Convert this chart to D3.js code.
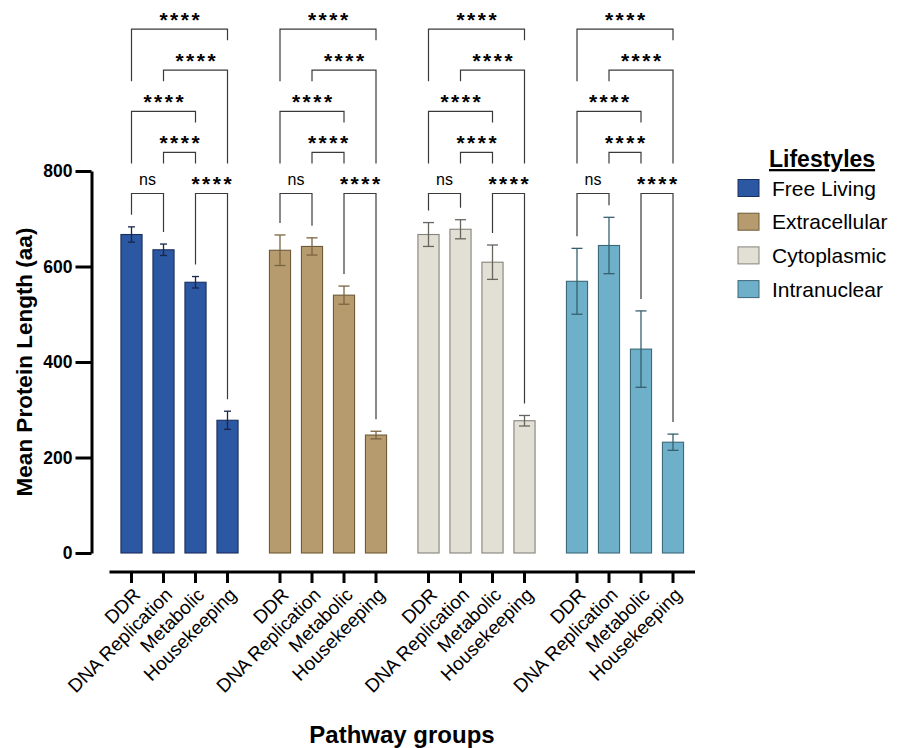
<!DOCTYPE html>
<html>
<head>
<meta charset="utf-8">
<script src="https://cdn.jsdelivr.net/npm/d3@7"></script>
<style>
    body { margin: 0; background: #fff; }
    svg { display: block; font-family: "Liberation Sans", Arial, Helvetica, sans-serif; }
</style>
</head>
<body>
<svg id="chart"></svg>
<script>
// values
let lifestyles = ["Free Living", "Extracellular", "Cytoplasmic", "Intranuclear"];
let pathways = ["DDR", "DNA Replication", "Metabolic", "Housekeeping"];

let freeLivingMean = [667, 635, 567, 278];
let freeLivingErr = [16, 12, 12, 19];
let extracellularMean = [634, 642, 540, 247];
let extracellularErr = [32, 18, 19, 8];
let cytoplasmicMean = [667, 678, 609, 277];
let cytoplasmicErr = [25, 20, 36, 11];
let intranuclearMean = [569, 644, 427, 232];
let intranuclearErr = [69, 59, 80, 17];

let yTicks = [0, 200, 400, 600, 800];

// pairwise tests inside each lifestyle (a, b = pathway index), stacked by level
let comparisons = [
    {a: 0, b: 1, label: "ns", level: 0},
    {a: 2, b: 3, label: "****", level: 0},
    {a: 1, b: 2, label: "****", level: 1},
    {a: 0, b: 2, label: "****", level: 2},
    {a: 1, b: 3, label: "****", level: 3},
    {a: 0, b: 3, label: "****", level: 4}
];

let means = [freeLivingMean, extracellularMean, cytoplasmicMean, intranuclearMean];
let errs = [freeLivingErr, extracellularErr, cytoplasmicErr, intranuclearErr];

let fills = ["#2c57a3", "#b59b6e", "#e2dfd5", "#6eafca"];
let strokes = ["#1b2f5c", "#6e5a37", "#85827a", "#3c6878"];
let errColors = ["#17264a", "#7a6440", "#666560", "#36606f"];
let capWidths = [7, 11, 11, 11];

let rows = [];
lifestyles.forEach((g, gi) => {
    pathways.forEach((p, pi) => {
        rows.push({group: g, gi: gi, pathway: p, pi: pi, mean: means[gi][pi], err: errs[gi][pi]});
    });
});

let visualize = function (data) {
    let width = 901, height = 748;
    let cfg = {
        yAxisX: 91.5,
        xAxisY: 572,
        plotTop: 171,
        plotBottom: 553,
        groupLeft: 115.5,
        groupRight: 689,
        bracketBase: 193.5,
        bracketStep: 41.1
    };

    let svg = d3.select("#chart")
        .attr("width", width)
        .attr("height", height);

    // scales
    let yScale = d3.scaleLinear()
        .domain([0, 800])
        .range([cfg.plotBottom, cfg.plotTop]);
    let outer = d3.scaleBand()
        .domain(lifestyles)
        .range([cfg.groupLeft, cfg.groupRight])
        .paddingInner(0.138)
        .paddingOuter(0);
    let inner = d3.scaleBand()
        .domain(pathways)
        .range([0, outer.bandwidth()])
        .paddingInner(0.34)
        .paddingOuter(0.17);
    let cx = d => outer(d.group) + inner(d.pathway) + inner.bandwidth() / 2;

    // bars
    svg.append("g").selectAll("rect")
        .data(data)
        .enter()
        .append("rect")
        .attr("x", d => outer(d.group) + inner(d.pathway))
        .attr("y", d => yScale(d.mean))
        .attr("width", inner.bandwidth())
        .attr("height", d => yScale(0) - yScale(d.mean))
        .attr("fill", d => fills[d.gi])
        .attr("stroke", d => strokes[d.gi])
        .attr("stroke-width", 1.1);

    // error bars
    let eb = svg.append("g").selectAll("g")
        .data(data)
        .enter()
        .append("g")
        .attr("stroke", d => errColors[d.gi])
        .attr("stroke-width", 1.3);
    eb.append("line")
        .attr("x1", cx).attr("x2", cx)
        .attr("y1", d => yScale(d.mean + d.err))
        .attr("y2", d => yScale(d.mean - d.err));
    eb.append("line")
        .attr("x1", d => cx(d) - capWidths[d.gi] / 2).attr("x2", d => cx(d) + capWidths[d.gi] / 2)
        .attr("y1", d => yScale(d.mean + d.err)).attr("y2", d => yScale(d.mean + d.err));
    eb.append("line")
        .attr("x1", d => cx(d) - capWidths[d.gi] / 2).attr("x2", d => cx(d) + capWidths[d.gi] / 2)
        .attr("y1", d => yScale(d.mean - d.err)).attr("y2", d => yScale(d.mean - d.err));

    // significance brackets
    let levelY = k => cfg.bracketBase - k * cfg.bracketStep;
    let brackets = svg.append("g");
    lifestyles.forEach((g, gi) => {
        let colData = data.filter(d => d.gi === gi);
        let legEnd = function (col, level) {
            let below = comparisons.filter(o => o.level < level && o.a <= col && o.b >= col);
            if (below.length) return levelY(d3.max(below, o => o.level)) - 30;
            let d = colData[col];
            return yScale(d.mean + d.err) - 12;
        };
        comparisons.forEach(c => {
            let xa = cx(colData[c.a]), xb = cx(colData[c.b]);
            let ly = levelY(c.level);
            brackets.append("path")
                .attr("d", `M${xa},${legEnd(c.a, c.level)}V${ly}H${xb}V${legEnd(c.b, c.level)}`)
                .attr("fill", "none")
                .attr("stroke", "#3a3a3a")
                .attr("stroke-width", 1.2);
            let stars = c.label !== "ns";
            brackets.append("text")
                .attr("x", (xa + xb) / 2)
                .attr("y", stars ? ly - 2.5 : ly - 8.5)
                .attr("dx", stars ? 1.25 : 0)
                .attr("text-anchor", "middle")
                .attr("font-size", stars ? 21 : 16)
                .attr("font-weight", stars ? "bold" : "normal")
                .attr("letter-spacing", stars ? 2.5 : 0)
                .attr("fill", "#000")
                .text(c.label);
        });
    });

    // y axis
    let yAx = d3.axisLeft(yScale)
        .tickValues(yTicks)
        .tickSize(16)
        .tickSizeOuter(0)
        .tickPadding(3);
    let yG = svg.append("g")
        .attr("transform", `translate(${cfg.yAxisX},0)`)
        .call(yAx);
    yG.selectAll("path, line").attr("stroke", "#000").attr("stroke-width", 3);
    yG.selectAll("text")
        .attr("font-size", 17.5)
        .attr("font-weight", "bold")
        .attr("font-family", null)
        .attr("fill", "#000");

    // x axis: one axis per lifestyle, one long line below
    svg.append("line")
        .attr("x1", outer.range()[0] - 6)
        .attr("x2", outer.range()[1] + 6)
        .attr("y1", cfg.xAxisY).attr("y2", cfg.xAxisY)
        .attr("stroke", "#000")
        .attr("stroke-width", 3);
    lifestyles.forEach(g => {
        let xG = svg.append("g")
            .attr("transform", `translate(${outer(g)},${cfg.xAxisY})`)
            .call(d3.axisBottom(inner).tickSize(11).tickSizeOuter(0));
        xG.select(".domain").remove();
        xG.selectAll("line").attr("stroke", "#000").attr("stroke-width", 3);
        xG.selectAll("text")
            .attr("x", 0).attr("y", 0).attr("dy", 0)
            .attr("text-anchor", "end")
            .attr("transform", "translate(10,24) rotate(-45)")
            .attr("font-size", 19)
            .attr("font-family", null)
            .attr("fill", "#000");
    });

    // axis titles
    svg.append("text")
        .attr("transform", "translate(32,362) rotate(-90)")
        .attr("text-anchor", "middle")
        .attr("font-size", 22.5)
        .attr("font-weight", "bold")
        .text("Mean Protein Length (aa)");
    svg.append("text")
        .attr("x", 402)
        .attr("y", 743)
        .attr("text-anchor", "middle")
        .attr("font-size", 24)
        .attr("font-weight", "bold")
        .text("Pathway groups");

    // legend
    let legend = svg.append("g").attr("transform", "translate(738,0)");
    legend.append("text")
        .attr("x", 31).attr("y", 167)
        .attr("font-size", 23)
        .attr("font-weight", "bold")
        .attr("text-decoration", "underline")
        .text("Lifestyles");
    let item = legend.selectAll(".item")
        .data(lifestyles)
        .enter()
        .append("g")
        .attr("class", "item")
        .attr("transform", (d, i) => `translate(0,${188 + i * 33.7})`);
    item.append("rect")
        .attr("x", 0).attr("y", -8.5)
        .attr("width", 21).attr("height", 17)
        .attr("fill", (d, i) => fills[i])
        .attr("stroke", (d, i) => strokes[i])
        .attr("stroke-width", 1);
    item.append("text")
        .attr("x", 34).attr("y", 7.5)
        .attr("font-size", 21)
        .text(d => d);
};

visualize(rows);
</script>
</body>
</html>
